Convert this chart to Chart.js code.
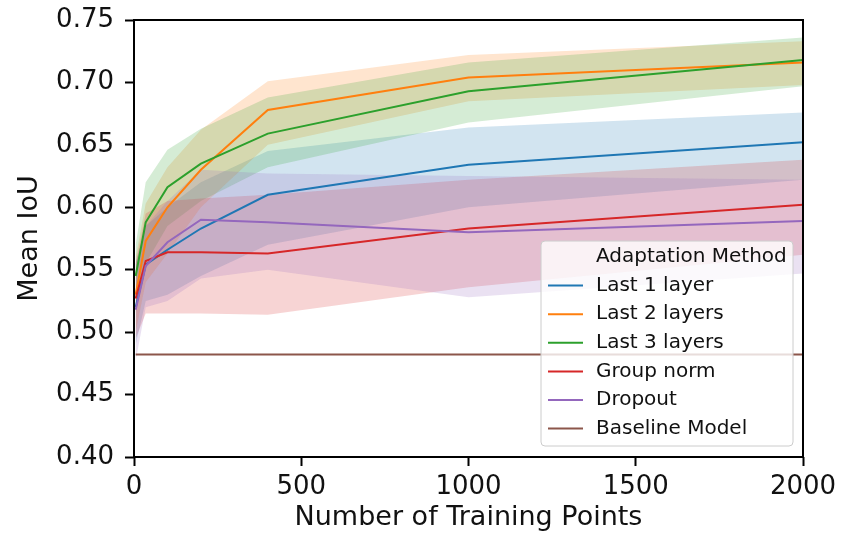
<!DOCTYPE html>
<html>
<head>
<meta charset="utf-8">
<script src="https://cdn.jsdelivr.net/npm/chart.js@4.4.0/dist/chart.umd.min.js"></script>
<style>
  html, body { margin: 0; padding: 0; background: #fff; }
  #wrap { width: 842px; height: 534px; }
</style>
</head>
<body>
<div id="wrap"><canvas id="iouChart" width="842" height="534"></canvas></div>
<script>
// number of training points (x positions of the measurements)
var trainPoints = [5, 35, 100, 200, 400, 1000, 2000];

var seriesNames = ["Last 1 layer", "Last 2 layers", "Last 3 layers", "Group norm", "Dropout"];
var seriesColors = ["#1f77b4", "#ff7f0e", "#2ca02c", "#d62728", "#9467bd"];

// mean IoU and the shaded band (low / high) for each method
var last1Mean = [0.520, 0.554, 0.566, 0.583, 0.610, 0.634, 0.652];
var last1Low  = [0.490, 0.525, 0.530, 0.545, 0.570, 0.600, 0.622];
var last1High = [0.555, 0.585, 0.600, 0.620, 0.645, 0.664, 0.676];

var last2Mean = [0.530, 0.573, 0.600, 0.630, 0.678, 0.704, 0.716];
var last2Low  = [0.500, 0.540, 0.563, 0.600, 0.650, 0.685, 0.698];
var last2High = [0.560, 0.603, 0.632, 0.662, 0.701, 0.722, 0.733];

var last3Mean = [0.545, 0.588, 0.616, 0.635, 0.659, 0.693, 0.718];
var last3Low  = [0.515, 0.555, 0.585, 0.605, 0.632, 0.668, 0.697];
var last3High = [0.570, 0.620, 0.646, 0.663, 0.688, 0.716, 0.736];

var groupNormMean = [0.527, 0.557, 0.564, 0.564, 0.563, 0.583, 0.602];
var groupNormLow  = [0.495, 0.515, 0.515, 0.515, 0.514, 0.536, 0.562];
var groupNormHigh = [0.555, 0.595, 0.605, 0.607, 0.610, 0.622, 0.638];

var dropoutMean = [0.518, 0.553, 0.572, 0.590, 0.588, 0.580, 0.589];
var dropoutLow  = [0.477, 0.520, 0.525, 0.543, 0.550, 0.528, 0.547];
var dropoutHigh = [0.555, 0.585, 0.605, 0.630, 0.627, 0.625, 0.622];

var baselineName = "Baseline Model";
var baselineValues = [0.482, 0.482, 0.482, 0.482, 0.482, 0.482, 0.482];
var baselineColor = "#8c564b";

var legendTitle = "Adaptation Method";

var xTicks = [0, 500, 1000, 1500, 2000];
var yTicks = [0.40, 0.45, 0.50, 0.55, 0.60, 0.65, 0.70, 0.75];

var means = [last1Mean, last2Mean, last3Mean, groupNormMean, dropoutMean];
var lows = [last1Low, last2Low, last3Low, groupNormLow, dropoutLow];
var highs = [last1High, last2High, last3High, groupNormHigh, dropoutHigh];

function pts(values) {
    return values.map(function(v, i) { return { x: trainPoints[i], y: v }; });
}

function alpha(hex, a) {
    var r = parseInt(hex.substr(1, 2), 16), g = parseInt(hex.substr(3, 2), 16), b = parseInt(hex.substr(5, 2), 16);
    return 'rgba(' + r + ',' + g + ',' + b + ',' + a + ')';
}

// bands first, then lines on top
var datasets = [];
for (var k = 0; k < seriesNames.length; k++) {
    datasets.push({ label: seriesNames[k] + ' low', data: pts(lows[k]), borderWidth: 0, pointRadius: 0, fill: false, order: 20 - k });
    datasets.push({ label: seriesNames[k] + ' high', data: pts(highs[k]), borderWidth: 0, pointRadius: 0, fill: '-1', backgroundColor: alpha(seriesColors[k], 0.2), order: 20 - k });
}
for (var k = 0; k < seriesNames.length; k++) {
    datasets.push({ label: seriesNames[k], data: pts(means[k]), borderColor: seriesColors[k], borderWidth: 2, pointRadius: 0, fill: false, order: 10 - k });
}
datasets.push({ label: baselineName, data: pts(baselineValues), borderColor: baselineColor, borderWidth: 2, pointRadius: 0, fill: false, order: 4 });

// matplotlib style frame around the plot
var frame = {
    id: 'frame',
    afterDatasetsDraw: function(chart) {
        var ctx = chart.ctx, a = chart.chartArea;
        ctx.save();
        ctx.strokeStyle = '#000';
        ctx.lineWidth = 2;
        ctx.strokeRect(a.left, a.top, a.right - a.left, a.bottom - a.top);
        ctx.restore();
    }
};

// legend box in the lower right corner, title as first row
var legendBox = {
    id: 'legendBox',
    afterDraw: function(chart) {
        var ctx = chart.ctx, a = chart.chartArea;
        var w = 252, h = 205, rowH = 28.6;
        var x0 = a.right - 10 - w, y0 = a.bottom - 11 - h;
        ctx.save();
        ctx.beginPath();
        ctx.roundRect(x0, y0, w, h, 4);
        ctx.fillStyle = 'rgba(255,255,255,0.8)';
        ctx.fill();
        ctx.strokeStyle = '#cccccc';
        ctx.lineWidth = 1;
        ctx.stroke();
        ctx.font = '20px "DejaVu Sans"';
        ctx.textBaseline = 'middle';
        ctx.fillStyle = '#111';
        var names = seriesNames.concat([baselineName]);
        var colors = seriesColors.concat([baselineColor]);
        var cy = y0 + 16;
        ctx.fillText(legendTitle, x0 + 55, cy);
        for (var i = 0; i < names.length; i++) {
            cy += rowH;
            ctx.beginPath();
            ctx.moveTo(x0 + 7, cy);
            ctx.lineTo(x0 + 42, cy);
            ctx.strokeStyle = colors[i];
            ctx.lineWidth = 2;
            ctx.stroke();
            ctx.fillStyle = '#111';
            ctx.fillText(names[i], x0 + 55, cy);
        }
        ctx.restore();
    }
};

var tickFont = { family: 'DejaVu Sans', size: 26 };
var titleFont = { family: 'DejaVu Sans', size: 27 };

var chart = new Chart(document.getElementById('iouChart').getContext('2d'), {
    type: 'line',
    data: { datasets: datasets },
    options: {
        responsive: false,
        animation: false,
        devicePixelRatio: 1,
        layout: { padding: { left: 0, right: 39, top: 20, bottom: 0 } },
        elements: { line: { tension: 0 } },
        plugins: {
            legend: { display: false },
            tooltip: { enabled: false },
            filler: { drawTime: 'beforeDatasetsDraw' }
        },
        scales: {
            x: {
                type: 'linear',
                min: 0, max: 2000,
                afterBuildTicks: function(scale) { scale.ticks = xTicks.map(function(v) { return { value: v }; }); },
                afterFit: function(scale) { scale.height = 77; scale.paddingLeft = 0; scale.paddingRight = 0; },
                grid: { drawOnChartArea: false, drawTicks: true, tickLength: 9, tickColor: '#000', tickWidth: 2 },
                border: { display: false },
                ticks: { color: '#111', font: tickFont, padding: 6, maxRotation: 0, callback: function(v) { return String(v); } },
                title: { display: true, text: 'Number of Training Points', color: '#111', font: titleFont, padding: { top: 0, bottom: 0 } }
            },
            y: {
                min: 0.40, max: 0.75,
                afterBuildTicks: function(scale) { scale.ticks = yTicks.map(function(v) { return { value: v }; }); },
                afterFit: function(scale) { scale.width = 134; scale.paddingTop = 0; scale.paddingBottom = 0; },
                grid: { drawOnChartArea: false, drawTicks: true, tickLength: 9, tickColor: '#000', tickWidth: 2 },
                border: { display: false },
                ticks: { color: '#111', font: tickFont, padding: 11, callback: function(v) { return v.toFixed(2); } },
                title: { display: true, text: 'Mean IoU', color: '#111', font: titleFont, padding: { top: 14, bottom: 0 } }
            }
        }
    },
    plugins: [frame, legendBox]
});
</script>
</body>
</html>
